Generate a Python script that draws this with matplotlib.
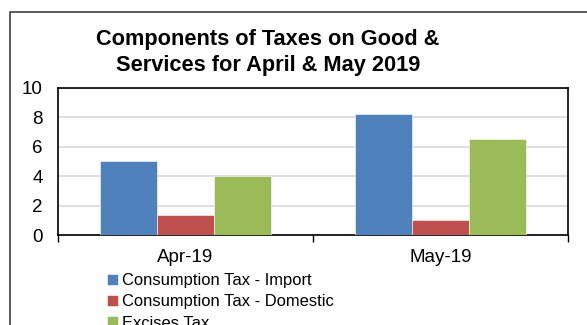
import numpy as np
import matplotlib.pyplot as plt
from matplotlib.patches import Rectangle

plt.rcParams['font.family'] = ['Liberation Sans', 'DejaVu Sans']

# Data
months = ['Apr-19', 'May-19']
series_names = ['Consumption Tax - Import', 'Consumption Tax - Domestic', 'Excises Tax']
import_tax = [5.05, 8.22]
domestic_tax = [1.35, 1.0]
excise_tax = [4.0, 6.53]
colors = ['#4F81BD', '#C0504D', '#9BBB59']

fig = plt.figure(figsize=(5.87, 3.25), dpi=100)
ax = fig.add_axes([58 / 587, 1 - 235 / 325, 510 / 587, 147 / 325])

# outer chart frame (runs off the right and bottom of the image)
fig.patches.append(Rectangle((10 / 587, -0.1), 1.2, 1 - 12 / 325 + 0.1,
                             transform=fig.transFigure, fill=False,
                             edgecolor='#404040', linewidth=1.2))

x = np.arange(len(months))
w = 0.224
for i, (vals, name) in enumerate(zip([import_tax, domestic_tax, excise_tax], series_names)):
    ax.bar(x + (i - 1) * w, vals, width=w, color=colors[i], label=name,
           edgecolor='white', linewidth=0.4, zorder=3)

ax.set_xlim(-0.5, 1.5)
ax.set_ylim(0, 10)
ax.set_yticks(range(0, 11, 2))
ax.yaxis.grid(True, color='#D9D9D9', linewidth=1.2, zorder=0)
ax.tick_params(axis='y', length=0, labelsize=13.5, pad=11)
ax.set_xticks([-0.5, 0.5, 1.5], minor=False)
ax.set_xticklabels([])
ax.set_xticks(x, minor=True)
ax.set_xticklabels(months, minor=True)
ax.tick_params(axis='x', which='major', length=5, width=1)
ax.tick_params(axis='x', which='minor', length=0, labelsize=13.5, pad=10)
for s in ax.spines.values():
    s.set_linewidth(1.2)
    s.set_color('black')

fig.text(268 / 587, 1 - 45 / 325, 'Components of Taxes on Good &', ha='center', va='baseline',
         fontsize=15.7, fontweight='bold')
fig.text(268 / 587, 1 - 71 / 325, 'Services for April & May 2019', ha='center', va='baseline',
         fontsize=15.7, fontweight='bold')

fig.legend(loc='upper left', bbox_to_anchor=(107 / 587, 1 - 273 / 325), frameon=False,
           fontsize=11.9, handlelength=0.65, handleheight=0.65, handletextpad=0.25,
           labelspacing=0.38, borderaxespad=0, borderpad=0)

fig.savefig('out.png', dpi=100)
